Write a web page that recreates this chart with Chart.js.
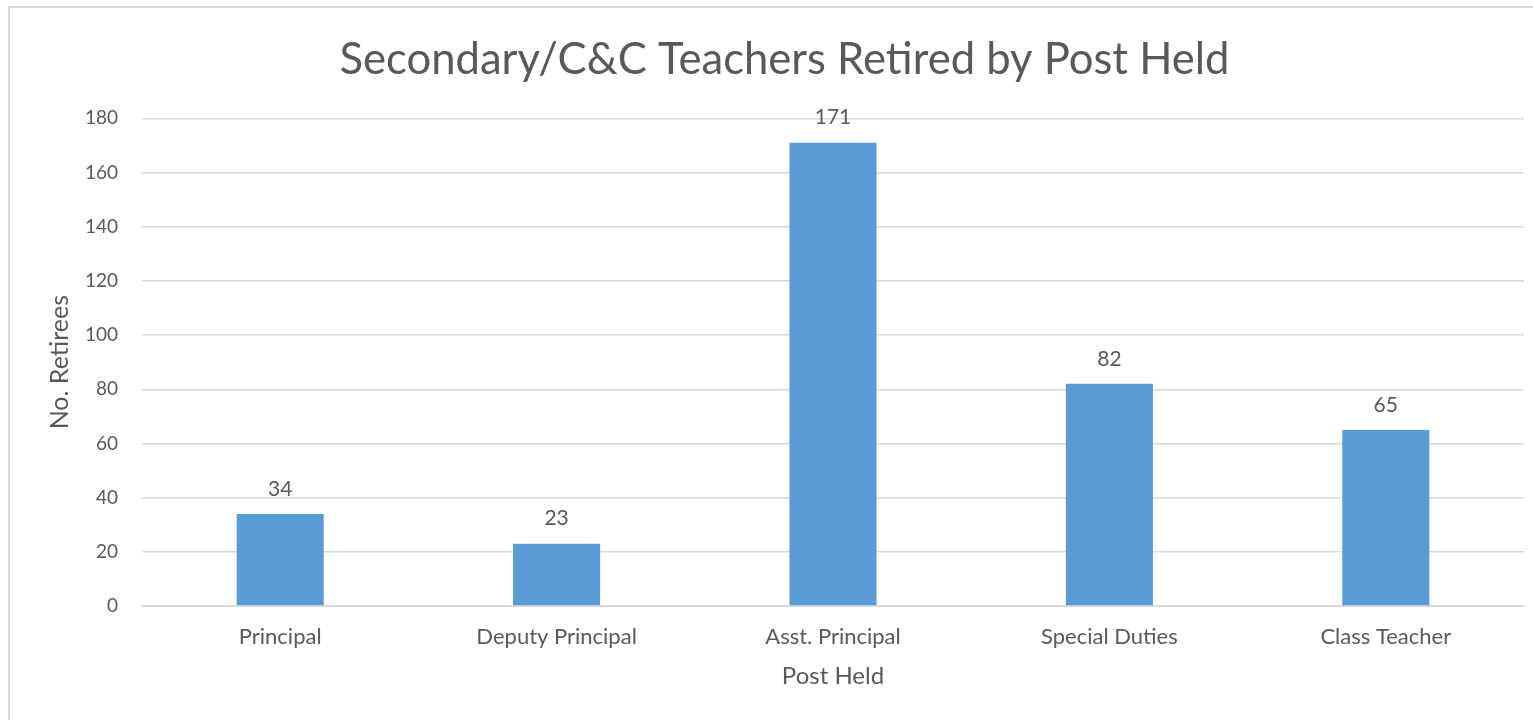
<!DOCTYPE html>
<html>
<head>
    <meta charset="UTF-8">
    <title>Secondary/C&amp;C Teachers Retired by Post Held</title>
    <script src="https://cdn.jsdelivr.net/npm/chart.js"></script>
    <style>
        html, body {
            margin: 0;
            padding: 0;
            background: #fff;
            overflow: hidden;
        }

        #frame {
            position: absolute;
            left: 8px;
            top: 6px;
            width: 1530px;
            height: 720px;
            border-left: 2px solid #d9d9d9;
            border-top: 2px solid #d9d9d9;
        }

        #chart-box {
            position: absolute;
            left: 10px;
            top: 8px;
            width: 1523px;
            height: 712px;
        }
    </style>
</head>
<body>
<div id="frame"></div>
<div id="chart-box">
    <canvas id="chart"></canvas>
</div>

<script>
    const posts = ["Principal", "Deputy Principal", "Asst. Principal", "Special Duties", "Class Teacher"];
    const retirees = [34, 23, 171, 82, 65];
    const yTicks = [0, 20, 40, 60, 80, 100, 120, 140, 160, 180];

    const textColor = "#595959";
    const fontFamily = "Lato, 'Open Sans', sans-serif";

    // draw the value above each bar
    const valueLabels = {
        id: "valueLabels",
        afterDatasetsDraw(chart) {
            const ctx = chart.ctx;
            const meta = chart.getDatasetMeta(0);
            ctx.save();
            ctx.font = "21px " + fontFamily;
            ctx.fillStyle = textColor;
            ctx.textAlign = "center";
            ctx.textBaseline = "middle";
            meta.data.forEach((bar, i) => {
                ctx.fillText(retirees[i], bar.x, bar.y - 25);
            });
            ctx.restore();
        }
    };

    const ctx = document.getElementById("chart").getContext("2d");
    new Chart(ctx, {
        type: "bar",
        data: {
            labels: posts,
            datasets: [{
                label: "No. Retirees",
                data: retirees,
                backgroundColor: "#5b9bd5",
                borderWidth: 0,
                categoryPercentage: 1.0,
                barPercentage: 0.315
            }]
        },
        options: {
            responsive: true,
            maintainAspectRatio: false,
            animation: false,
            layout: {
                padding: {left: 35, right: 9, top: 26, bottom: 29}
            },
            plugins: {
                legend: {display: false},
                tooltip: {enabled: false},
                title: {
                    display: true,
                    text: "Secondary/C&C Teachers Retired by Post Held",
                    color: textColor,
                    font: {family: fontFamily, size: 43.6, weight: "normal"},
                    padding: {top: 0, bottom: 32}
                }
            },
            scales: {
                x: {
                    afterFit: axis => { axis.height = 85; },
                    grid: {display: false, drawTicks: false},
                    border: {color: "#d9d9d9", width: 2},
                    ticks: {
                        color: textColor,
                        font: {family: fontFamily, size: 22},
                        padding: 18
                    },
                    title: {
                        display: true,
                        text: "Post Held",
                        color: textColor,
                        font: {family: fontFamily, size: 24},
                        padding: {top: 0, bottom: 0}
                    }
                },
                y: {
                    min: 0,
                    max: 180,
                    afterFit: axis => { axis.width = 97; },
                    afterBuildTicks: axis => {
                        axis.ticks = yTicks.map(v => ({value: v}));
                    },
                    grid: {color: "#d9d9d9", lineWidth: 1.5, drawTicks: false},
                    border: {display: false},
                    ticks: {
                        color: textColor,
                        font: {family: fontFamily, size: 19},
                        padding: 24
                    },
                    title: {
                        display: true,
                        text: "No. Retirees",
                        color: textColor,
                        font: {family: fontFamily, size: 25},
                        padding: {top: 0, bottom: 0}
                    }
                }
            }
        },
        plugins: [valueLabels]
    });
</script>
</body>
</html>
